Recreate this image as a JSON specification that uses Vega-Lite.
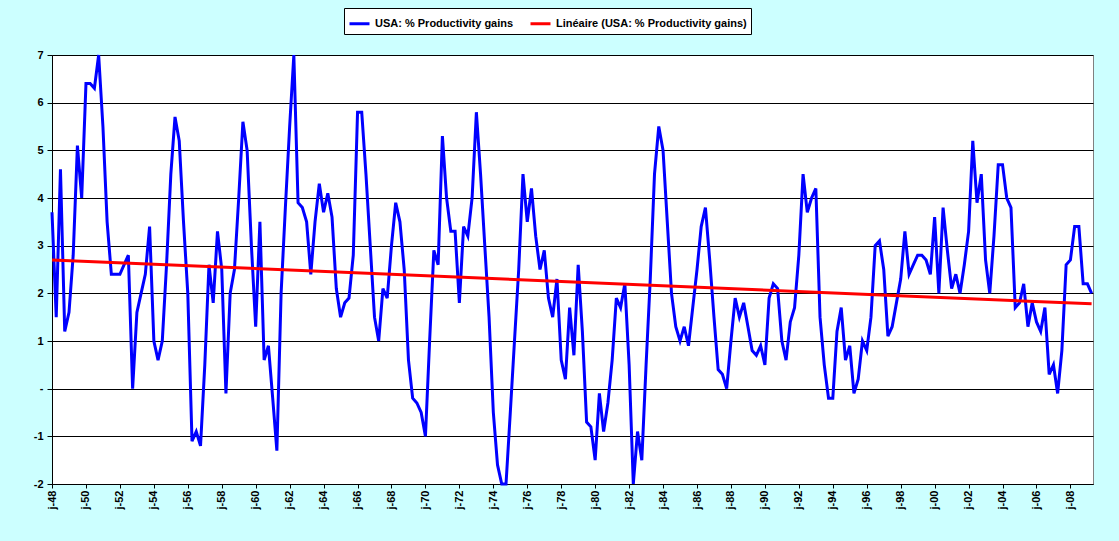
{
  "$schema": "https://vega.github.io/schema/vega-lite/v6.json",
  "width": 1041,
  "height": 429,
  "autosize": "none",
  "padding": {"left": 52, "top": 55, "right": 26, "bottom": 57},
  "background": "#CCFFFF",
  "config": {
    "view": {"fill": "white", "stroke": "#808080", "strokeWidth": 1},
    "font": "Liberation Sans"
  },
  "datasets": {
    "prod": [
      {"date":"1948-01-01","value":3.7},{"date":"1948-04-01","value":1.5},{"date":"1948-07-01","value":4.6},{"date":"1948-10-01","value":1.2},
      {"date":"1949-01-01","value":1.6},{"date":"1949-04-01","value":2.8},{"date":"1949-07-01","value":5.1},{"date":"1949-10-01","value":4.0},
      {"date":"1950-01-01","value":6.4},{"date":"1950-04-01","value":6.4},{"date":"1950-07-01","value":6.3},{"date":"1950-10-01","value":7.0},
      {"date":"1951-01-01","value":5.5},{"date":"1951-04-01","value":3.5},{"date":"1951-07-01","value":2.4},{"date":"1951-10-01","value":2.4},
      {"date":"1952-01-01","value":2.4},{"date":"1952-04-01","value":2.6},{"date":"1952-07-01","value":2.8},{"date":"1952-10-01","value":0.0},
      {"date":"1953-01-01","value":1.6},{"date":"1953-04-01","value":2.0},{"date":"1953-07-01","value":2.4},{"date":"1953-10-01","value":3.4},
      {"date":"1954-01-01","value":1.0},{"date":"1954-04-01","value":0.6},{"date":"1954-07-01","value":1.0},{"date":"1954-10-01","value":2.6},
      {"date":"1955-01-01","value":4.5},{"date":"1955-04-01","value":5.7},{"date":"1955-07-01","value":5.2},{"date":"1955-10-01","value":3.5},
      {"date":"1956-01-01","value":2.0},{"date":"1956-04-01","value":-1.1},{"date":"1956-07-01","value":-0.9},{"date":"1956-10-01","value":-1.2},
      {"date":"1957-01-01","value":0.5},{"date":"1957-04-01","value":2.6},{"date":"1957-07-01","value":1.8},{"date":"1957-10-01","value":3.3},
      {"date":"1958-01-01","value":2.5},{"date":"1958-04-01","value":-0.1},{"date":"1958-07-01","value":2.0},{"date":"1958-10-01","value":2.5},
      {"date":"1959-01-01","value":4.0},{"date":"1959-04-01","value":5.6},{"date":"1959-07-01","value":5.0},{"date":"1959-10-01","value":3.0},
      {"date":"1960-01-01","value":1.3},{"date":"1960-04-01","value":3.5},{"date":"1960-07-01","value":0.6},{"date":"1960-10-01","value":0.9},
      {"date":"1961-01-01","value":-0.2},{"date":"1961-04-01","value":-1.3},{"date":"1961-07-01","value":2.0},{"date":"1961-10-01","value":3.8},
      {"date":"1962-01-01","value":5.5},{"date":"1962-04-01","value":7.0},{"date":"1962-07-01","value":3.9},{"date":"1962-10-01","value":3.8},
      {"date":"1963-01-01","value":3.5},{"date":"1963-04-01","value":2.4},{"date":"1963-07-01","value":3.5},{"date":"1963-10-01","value":4.3},
      {"date":"1964-01-01","value":3.7},{"date":"1964-04-01","value":4.1},{"date":"1964-07-01","value":3.6},{"date":"1964-10-01","value":2.1},
      {"date":"1965-01-01","value":1.5},{"date":"1965-04-01","value":1.8},{"date":"1965-07-01","value":1.9},{"date":"1965-10-01","value":2.8},
      {"date":"1966-01-01","value":5.8},{"date":"1966-04-01","value":5.8},{"date":"1966-07-01","value":4.5},{"date":"1966-10-01","value":3.0},
      {"date":"1967-01-01","value":1.5},{"date":"1967-04-01","value":1.0},{"date":"1967-07-01","value":2.1},{"date":"1967-10-01","value":1.9},
      {"date":"1968-01-01","value":3.0},{"date":"1968-04-01","value":3.9},{"date":"1968-07-01","value":3.5},{"date":"1968-10-01","value":2.5},
      {"date":"1969-01-01","value":0.6},{"date":"1969-04-01","value":-0.2},{"date":"1969-07-01","value":-0.3},{"date":"1969-10-01","value":-0.5},
      {"date":"1970-01-01","value":-1.0},{"date":"1970-04-01","value":1.0},{"date":"1970-07-01","value":2.9},{"date":"1970-10-01","value":2.6},
      {"date":"1971-01-01","value":5.3},{"date":"1971-04-01","value":4.0},{"date":"1971-07-01","value":3.3},{"date":"1971-10-01","value":3.3},
      {"date":"1972-01-01","value":1.8},{"date":"1972-04-01","value":3.4},{"date":"1972-07-01","value":3.2},{"date":"1972-10-01","value":4.0},
      {"date":"1973-01-01","value":5.8},{"date":"1973-04-01","value":4.5},{"date":"1973-07-01","value":3.0},{"date":"1973-10-01","value":1.5},
      {"date":"1974-01-01","value":-0.5},{"date":"1974-04-01","value":-1.6},{"date":"1974-07-01","value":-2.0},{"date":"1974-10-01","value":-2.0},
      {"date":"1975-01-01","value":-0.5},{"date":"1975-04-01","value":1.0},{"date":"1975-07-01","value":2.5},{"date":"1975-10-01","value":4.5},
      {"date":"1976-01-01","value":3.5},{"date":"1976-04-01","value":4.2},{"date":"1976-07-01","value":3.2},{"date":"1976-10-01","value":2.5},
      {"date":"1977-01-01","value":2.9},{"date":"1977-04-01","value":1.9},{"date":"1977-07-01","value":1.5},{"date":"1977-10-01","value":2.3},
      {"date":"1978-01-01","value":0.6},{"date":"1978-04-01","value":0.2},{"date":"1978-07-01","value":1.7},{"date":"1978-10-01","value":0.7},
      {"date":"1979-01-01","value":2.6},{"date":"1979-04-01","value":1.2},{"date":"1979-07-01","value":-0.7},{"date":"1979-10-01","value":-0.8},
      {"date":"1980-01-01","value":-1.5},{"date":"1980-04-01","value":-0.1},{"date":"1980-07-01","value":-0.9},{"date":"1980-10-01","value":-0.3},
      {"date":"1981-01-01","value":0.6},{"date":"1981-04-01","value":1.9},{"date":"1981-07-01","value":1.7},{"date":"1981-10-01","value":2.2},
      {"date":"1982-01-01","value":0.5},{"date":"1982-04-01","value":-2.0},{"date":"1982-07-01","value":-0.9},{"date":"1982-10-01","value":-1.5},
      {"date":"1983-01-01","value":0.5},{"date":"1983-04-01","value":2.3},{"date":"1983-07-01","value":4.5},{"date":"1983-10-01","value":5.5},
      {"date":"1984-01-01","value":5.0},{"date":"1984-04-01","value":3.5},{"date":"1984-07-01","value":2.0},{"date":"1984-10-01","value":1.3},
      {"date":"1985-01-01","value":1.0},{"date":"1985-04-01","value":1.3},{"date":"1985-07-01","value":0.9},{"date":"1985-10-01","value":1.7},
      {"date":"1986-01-01","value":2.5},{"date":"1986-04-01","value":3.4},{"date":"1986-07-01","value":3.8},{"date":"1986-10-01","value":2.7},
      {"date":"1987-01-01","value":1.5},{"date":"1987-04-01","value":0.4},{"date":"1987-07-01","value":0.3},{"date":"1987-10-01","value":0.0},
      {"date":"1988-01-01","value":1.0},{"date":"1988-04-01","value":1.9},{"date":"1988-07-01","value":1.5},{"date":"1988-10-01","value":1.8},
      {"date":"1989-01-01","value":1.3},{"date":"1989-04-01","value":0.8},{"date":"1989-07-01","value":0.7},{"date":"1989-10-01","value":0.9},
      {"date":"1990-01-01","value":0.5},{"date":"1990-04-01","value":1.9},{"date":"1990-07-01","value":2.2},{"date":"1990-10-01","value":2.1},
      {"date":"1991-01-01","value":1.0},{"date":"1991-04-01","value":0.6},{"date":"1991-07-01","value":1.4},{"date":"1991-10-01","value":1.7},
      {"date":"1992-01-01","value":2.8},{"date":"1992-04-01","value":4.5},{"date":"1992-07-01","value":3.7},{"date":"1992-10-01","value":4.0},
      {"date":"1993-01-01","value":4.2},{"date":"1993-04-01","value":1.5},{"date":"1993-07-01","value":0.5},{"date":"1993-10-01","value":-0.2},
      {"date":"1994-01-01","value":-0.2},{"date":"1994-04-01","value":1.2},{"date":"1994-07-01","value":1.7},{"date":"1994-10-01","value":0.6},
      {"date":"1995-01-01","value":0.9},{"date":"1995-04-01","value":-0.1},{"date":"1995-07-01","value":0.2},{"date":"1995-10-01","value":1.0},
      {"date":"1996-01-01","value":0.8},{"date":"1996-04-01","value":1.5},{"date":"1996-07-01","value":3.0},{"date":"1996-10-01","value":3.1},
      {"date":"1997-01-01","value":2.5},{"date":"1997-04-01","value":1.1},{"date":"1997-07-01","value":1.3},{"date":"1997-10-01","value":1.8},
      {"date":"1998-01-01","value":2.3},{"date":"1998-04-01","value":3.3},{"date":"1998-07-01","value":2.4},{"date":"1998-10-01","value":2.6},
      {"date":"1999-01-01","value":2.8},{"date":"1999-04-01","value":2.8},{"date":"1999-07-01","value":2.7},{"date":"1999-10-01","value":2.4},
      {"date":"2000-01-01","value":3.6},{"date":"2000-04-01","value":2.0},{"date":"2000-07-01","value":3.8},{"date":"2000-10-01","value":2.9},
      {"date":"2001-01-01","value":2.1},{"date":"2001-04-01","value":2.4},{"date":"2001-07-01","value":2.0},{"date":"2001-10-01","value":2.6},
      {"date":"2002-01-01","value":3.3},{"date":"2002-04-01","value":5.2},{"date":"2002-07-01","value":3.9},{"date":"2002-10-01","value":4.5},
      {"date":"2003-01-01","value":2.7},{"date":"2003-04-01","value":2.0},{"date":"2003-07-01","value":3.2},{"date":"2003-10-01","value":4.7},
      {"date":"2004-01-01","value":4.7},{"date":"2004-04-01","value":4.0},{"date":"2004-07-01","value":3.8},{"date":"2004-10-01","value":1.7},
      {"date":"2005-01-01","value":1.8},{"date":"2005-04-01","value":2.2},{"date":"2005-07-01","value":1.3},{"date":"2005-10-01","value":1.8},
      {"date":"2006-01-01","value":1.4},{"date":"2006-04-01","value":1.2},{"date":"2006-07-01","value":1.7},{"date":"2006-10-01","value":0.3},
      {"date":"2007-01-01","value":0.5},{"date":"2007-04-01","value":-0.1},{"date":"2007-07-01","value":0.8},{"date":"2007-10-01","value":2.6},
      {"date":"2008-01-01","value":2.7},{"date":"2008-04-01","value":3.4},{"date":"2008-07-01","value":3.4},{"date":"2008-10-01","value":2.2},
      {"date":"2009-01-01","value":2.2},{"date":"2009-04-01","value":2.0}
    ],
    "trend": [
      {"date": "1948-01-01", "value": 2.7},
      {"date": "2009-04-01", "value": 1.78}
    ]
  },
  "encoding": {
    "x": {
      "field": "date", "type": "temporal",
      "scale": {"domain": ["1948-01-01", "2009-05-01"]},
      "axis": {
        "title": null, "grid": false, "labelAngle": -90,
        "tickCount": {"interval": "year", "step": 2},
        "labelExpr": "'j-' + timeFormat(datum.value, '%y')",
        "labelFontWeight": "bold", "labelFontSize": 11, "labelColor": "black",
        "domainColor": "black", "tickColor": "black", "tickSize": 4
      }
    },
    "y": {
      "field": "value", "type": "quantitative",
      "scale": {"domain": [-2, 7], "nice": false},
      "axis": {
        "title": null, "values": [-2, -1, 0, 1, 2, 3, 4, 5, 6, 7],
        "labelExpr": "datum.value == 0 ? '-' : (datum.value < 0 ? '-' + abs(datum.value) : '' + datum.value)",
        "gridColor": "black", "gridOpacity": 1, "gridWidth": 1,
        "labelFontWeight": "bold", "labelFontSize": 11, "labelColor": "black",
        "domainColor": "black", "tickColor": "black", "labelPadding": 4
      }
    },
    "color": {
      "datum": "USA: % Productivity gains",
      "type": "nominal",
      "scale": {
        "domain": ["USA: % Productivity gains", "Linéaire (USA: % Productivity gains)"],
        "range": ["#0000FF", "#FF0000"]
      },
      "legend": {
        "title": null, "orient": "none", "direction": "horizontal",
        "legendX": 292, "legendY": -47,
        "symbolType": "stroke", "symbolStrokeWidth": 3, "symbolSize": 400,
        "labelFontWeight": "bold", "labelFontSize": 11, "labelColor": "black", "labelLimit": 0,
        "fillColor": "white", "strokeColor": "black", "padding": 4, "columnPadding": 10
      }
    }
  },
  "layer": [
    {
      "data": {"name": "prod"},
      "mark": {"type": "line", "strokeWidth": 3}
    },
    {
      "data": {"name": "trend"},
      "mark": {"type": "line", "strokeWidth": 3},
      "encoding": {
        "color": {"datum": "Linéaire (USA: % Productivity gains)", "type": "nominal"}
      }
    }
  ]
}
